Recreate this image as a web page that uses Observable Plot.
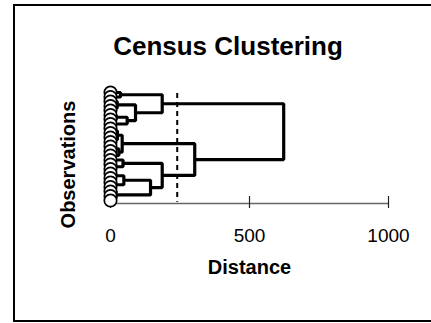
<!DOCTYPE html>
<html>
<head>
<meta charset="utf-8">
<script src="https://cdn.jsdelivr.net/npm/d3@7"></script>
<script src="https://cdn.jsdelivr.net/npm/@observablehq/plot@0.6"></script>
<style>
  html, body { margin: 0; padding: 0; background: #fff; overflow: hidden; }
  #wrap { position: relative; width: 431px; height: 323px; overflow: hidden; }
  .edge { position: absolute; background: #000; pointer-events: none; }
  #edgeTop { left: 13px; top: 4px; width: 418px; height: 2px; }
  #edgeLeft { left: 13px; top: 4px; width: 2px; height: 318px; }
  #edgeBottom { left: 13px; top: 320px; width: 418px; height: 2px; }
  svg { position: absolute; left: 0; top: 0; }
</style>
</head>
<body>
<div id="wrap"><div class="edge" id="edgeTop"></div><div class="edge" id="edgeLeft"></div><div class="edge" id="edgeBottom"></div></div>
<script>
// ---- data ----
const title = "Census Clustering";
const xLabel = "Distance";
const yLabel = "Observations";
const leafCount = 25;              // observations, in dendrogram order
const xTicks = [0, 500, 1000];
const cutoff = 240;                // dashed cut line (distance)
// merges: [child1, child2, height]; leaves are 0..leafCount-1, merge i gets id leafCount+i
const mergeLeft   = [0, 3, 2, 5, 28, 27, 25, 8, 10, 32, 12, 35, 34, 16, 15, 18, 20, 40, 23, 22, 42, 39, 37, 31];
const mergeRight  = [1, 4, 26, 6, 7, 29, 30, 9, 11, 33, 13, 14, 36, 17, 38, 19, 21, 41, 24, 43, 44, 45, 46, 47];
const mergeHeight = [36, 10, 24, 20, 60, 90, 186, 8, 12, 25, 10, 30, 42, 14, 45, 10, 14, 48, 8, 20, 144, 186, 303, 623];

// ---- build dendrogram geometry ----
const pos = new Map(); // id -> {x: height, y: leaf-position}
for (let i = 0; i < leafCount; i++) pos.set(i, {x: 0, y: i});
const segs = [];
mergeLeft.forEach((a, i) => {
  const b = mergeRight[i], h = mergeHeight[i];
  const pa = pos.get(a), pb = pos.get(b);
  const id = leafCount + i;
  segs.push({id, x: pa.x, y: pa.y}, {id, x: h, y: pa.y}, {id, x: h, y: pb.y}, {id, x: pb.x, y: pb.y});
  pos.set(id, {x: h, y: (pa.y + pb.y) / 2});
});
const leaves = d3.range(leafCount).map(i => ({x: 0, y: i}));
const axisY = leafCount - 1 + 0.67;

const font = "Arial, 'Liberation Sans', sans-serif";
const chart = Plot.plot({
  width: 431,
  height: 323,
  marginLeft: 110,
  marginRight: 43,
  marginTop: 92,
  marginBottom: 127,
  style: {fontFamily: font, background: "transparent", overflow: "visible"},
  x: {domain: [0, 1000]},
  y: {domain: [0, leafCount - 1], range: [92, 200], axis: null},
  marks: [
    Plot.ruleY([axisY], {x1: 0, x2: 1000, stroke: "#666", strokeWidth: 1.5}),
    Plot.axisX(xTicks, {anchor: "bottom", tickSize: 12, tickPadding: 20, fontSize: 19, stroke: "#222", strokeWidth: 1.2, label: null, tickFormat: d => String(d), fill: "#000"}),
    Plot.ruleX([cutoff], {y1: 0.2, y2: axisY - 0.3, stroke: "#000", strokeWidth: 2, strokeDasharray: "5,4"}),
    Plot.line(segs, {x: "x", y: "y", z: "id", stroke: "#000", strokeWidth: 3.2, strokeLinejoin: "miter", strokeLinecap: "butt", curve: "linear"}),
    Plot.dot(leaves, {x: "x", y: "y", r: 6.2, fill: "#fff", stroke: "#000", strokeWidth: 1.7}),
    Plot.text([title], {frameAnchor: "top", text: d => d, dx: -21.5, dy: -37.7, lineAnchor: "bottom", textAnchor: "middle", fontSize: 26, fontWeight: "bold", fill: "#000"}),
    Plot.text([xLabel], {frameAnchor: "bottom", text: d => d, dy: 77, lineAnchor: "bottom", textAnchor: "middle", fontSize: 20, fontWeight: "bold", fill: "#000"}),
    Plot.text([yLabel], {frameAnchor: "left", text: d => d, dx: -36, dy: 20, rotate: -90, lineAnchor: "bottom", textAnchor: "middle", fontSize: 20, fontWeight: "bold", fill: "#000"})
  ]
});
document.getElementById("wrap").appendChild(chart);
</script>
</body>
</html>
